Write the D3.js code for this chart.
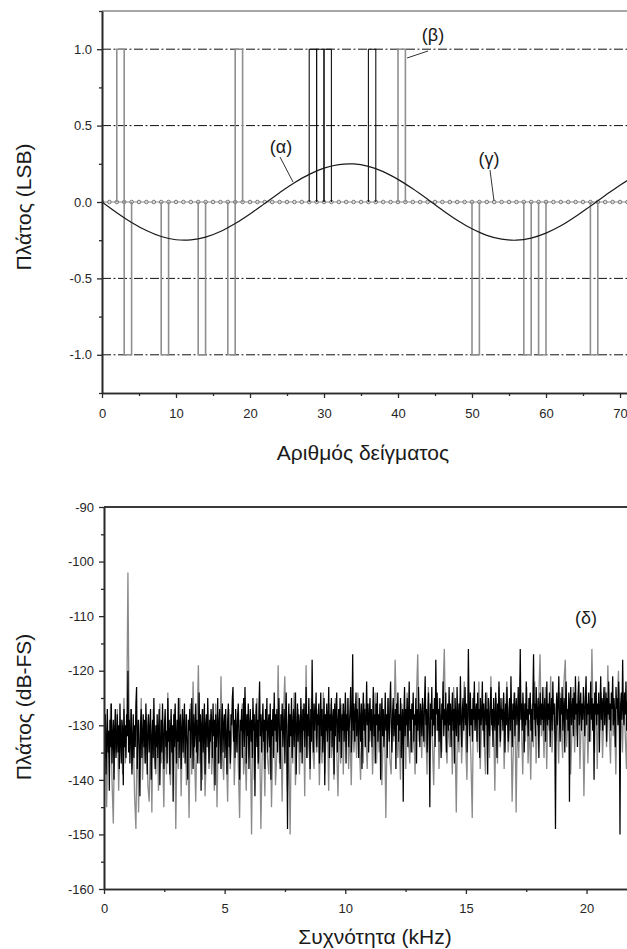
<!DOCTYPE html>
<html>
<head>
<meta charset="utf-8">
<script src="https://cdn.jsdelivr.net/npm/d3@7"></script>
<style>
  body { margin: 0; background: #fff; }
  svg { display: block; font-family: "Liberation Sans", Arial, sans-serif; }
</style>
</head>
<body>
<svg id="fig" width="627" height="949"></svg>
<script>
// ---------- Upper plot: amplitude in LSB vs sample number ----------

// (α) input sinusoid, one value every alphaStep samples, starting at sample 0
const alphaStep = 2;
const alphaValues = [
  0.000, -0.070, -0.134, -0.187, -0.226, -0.247, -0.248, -0.230, -0.193, -0.141,
  -0.078, -0.009, 0.061, 0.126, 0.181, 0.222, 0.245, 0.249, 0.233, 0.199,
  0.148, 0.086, 0.018, -0.053, -0.119, -0.175, -0.218, -0.243, -0.250, -0.236,
  -0.204, -0.156, -0.095, -0.027, 0.043, 0.110, 0.168, 0.212, 0.241
];

// (β) dithered quantizer output: non-zero samples (all other samples are 0)
const betaGraySamples = [2, 3, 8, 13, 17, 18, 40, 50, 57, 59, 66];
const betaGrayValues  = [1, -1, -1, -1, -1, 1, 1, -1, -1, -1, -1];
const betaBlackSamples = [28, 29, 30, 36];
const betaBlackValues  = [1, 1, 1, 1];

// (γ) undithered quantizer output, samples 0..75
const gammaValues = [
  0,0,0,0,0,0,0,0,0,0, 0,0,0,0,0,0,0,0,0,0,
  0,0,0,0,0,0,0,0,0,0, 0,0,0,0,0,0,0,0,0,0,
  0,0,0,0,0,0,0,0,0,0, 0,0,0,0,0,0,0,0,0,0,
  0,0,0,0,0,0,0,0,0,0, 0,0,0,0,0,0
];

const topYTicks = [-1.0, -0.5, 0.0, 0.5, 1.0];
const topYMinor = [-1.25, -0.75, -0.25, 0.25, 0.75, 1.25];
const topGridLevels = [-1.0, -0.5, 0.5, 1.0];
const topXTicks = [0, 10, 20, 30, 40, 50, 60, 70];
const topXMinor = [5, 15, 25, 35, 45, 55, 65, 75];

// ---------- Lower plot: spectrum in dB-FS vs frequency ----------
// black trace: fine frequency grid
const blackBinKHz = 0.02756;
const spectrumBlack = [
  -130,-136,-128,-139,-133,-127,-135,-131,-142,-129,-134,-126,-137,-132,-129,-140,-131,-127,-136,-133,
  -128,-135,-130,-138,-126,-133,-137,-129,-131,-141,-127,-134,-130,-136,-128,-132,-120,-135,-129,-137,
  -131,-127,-139,-133,-128,-136,-130,-134,-126,-123,-138,-131,-129,-135,-143,-130,-127,-136,-132,-128,
  -134,-129,-137,-126,-132,-139,-130,-128,-135,-131,-127,-140,-133,-129,-136,-125,-132,-138,-130,-134,
  -128,-136,-131,-127,-141,-133,-129,-135,-126,-132,-138,-130,-127,-134,-131,-137,-125,-133,-129,-139,
  -131,-127,-135,-130,-144,-128,-134,-126,-132,-137,-129,-133,-125,-136,-130,-128,-138,-131,-127,-135,
  -130,-126,-137,-132,-128,-134,-140,-129,-131,-127,-136,-133,-125,-130,-138,-128,-134,-131,-126,-135,
  -129,-137,-131,-124,-133,-128,-142,-130,-127,-135,-132,-126,-139,-130,-128,-134,-125,-131,-137,-129,
  -133,-127,-130,-136,-126,-132,-129,-141,-128,-134,-131,-125,-137,-130,-127,-133,-138,-129,-126,-135,
  -130,-128,-136,-127,-132,-139,-129,-126,-134,-131,-137,-128,-130,-125,-123,-133,-129,-136,-127,-131,
  -135,-128,-126,-133,-140,-129,-131,-127,-136,-130,-125,-134,-123,-129,-137,-128,-132,-126,-138,-130,
  -127,-133,-129,-136,-125,-131,-128,-143,-130,-126,-134,-129,-137,-127,-122,-132,-128,-135,-130,-126,
  -133,-129,-138,-127,-131,-125,-135,-130,-128,-134,-126,-140,-129,-132,-127,-136,-124,-131,-128,-133,
  -127,-135,-129,-125,-132,-138,-128,-131,-126,-134,-130,-127,-137,-129,-124,-133,-149,-130,-126,-134,
  -128,-132,-125,-136,-130,-127,-134,-129,-124,-139,-131,-126,-133,-128,-130,-135,-125,-129,-137,-127,
  -131,-126,-134,-129,-123,-136,-128,-132,-125,-130,-138,-127,-133,-118,-129,-135,-126,-131,-128,-124,
  -134,-128,-130,-126,-137,-129,-124,-132,-127,-135,-130,-125,-141,-128,-131,-126,-133,-129,-123,-136,
  -128,-131,-125,-134,-129,-127,-139,-126,-132,-128,-124,-135,-130,-127,-133,-125,-129,-136,-128,-131,
  -126,-133,-129,-124,-137,-128,-131,-125,-134,-130,-127,-123,-135,-129,-117,-131,-126,-133,-128,-124,
  -132,-127,-130,-136,-125,-129,-133,-126,-138,-128,-124,-131,-127,-134,-129,-122,-130,-126,-135,-128,
  -125,-131,-127,-134,-129,-123,-132,-128,-137,-126,-130,-124,-133,-128,-131,-126,-140,-129,-125,-132,
  -127,-134,-130,-124,-131,-128,-136,-125,-129,-133,-126,-122,-130,-135,-128,-125,-132,-129,-127,-138,
  -126,-130,-124,-133,-128,-131,-125,-136,-129,-127,-144,-128,-123,-132,-127,-130,-125,-134,-128,-122,
  -131,-127,-135,-126,-129,-124,-133,-128,-130,-125,-137,-127,-131,-123,-129,-134,-126,-128,-132,-125,
  -129,-133,-126,-121,-130,-127,-135,-128,-124,-131,-145,-126,-129,-123,-132,-127,-130,-125,-134,-118,
  -128,-124,-131,-127,-133,-125,-130,-136,-126,-129,-122,-132,-127,-130,-124,-135,-128,-126,-131,-123,
  -130,-126,-134,-128,-124,-131,-127,-137,-125,-129,-132,-123,-128,-133,-126,-130,-121,-129,-134,-127,
  -125,-131,-128,-123,-130,-126,-135,-129,-116,-127,-132,-124,-130,-127,-133,-125,-129,-122,-131,-128,
  -126,-133,-124,-129,-127,-136,-125,-130,-128,-122,-131,-126,-134,-128,-124,-130,-127,-139,-125,-129,
  -132,-126,-123,-130,-127,-134,-125,-129,-131,-124,-128,-136,-126,-130,-122,-128,-133,-125,-129,-127,
  -131,-124,-128,-135,-126,-130,-123,-129,-133,-127,-125,-131,-121,-128,-134,-126,-129,-124,-132,-127,
  -125,-130,-128,-123,-133,-127,-116,-129,-126,-131,-124,-128,-135,-126,-130,-122,-129,-127,-132,-125,
  -128,-124,-131,-127,-133,-125,-117,-129,-126,-132,-123,-128,-130,-125,-136,-127,-124,-130,-126,-129,
  -123,-131,-127,-125,-133,-128,-122,-130,-126,-129,-124,-134,-127,-125,-131,-122,-128,-126,-132,-149,
  -127,-124,-130,-126,-121,-129,-133,-125,-128,-123,-131,-127,-125,-135,-126,-122,-129,-127,-131,-124,
  -144,-126,-123,-130,-127,-125,-132,-124,-129,-121,-128,-126,-134,-125,-122,-130,-127,-124,-131,-126,
  -129,-123,-127,-132,-125,-121,-130,-126,-128,-124,-133,-127,-122,-129,-125,-131,-126,-140,-124,-128,
  -122,-130,-126,-128,-124,-135,-127,-121,-129,-125,-131,-126,-123,-130,-127,-124,-133,-125,-128,-122,
  -129,-126,-131,-124,-127,-121,-130,-125,-128,-134,-123,-127,-125,-130,-122,-128,-150,-126,-124,-129,
  -118,-127,-130,-124,-128,-122,-131,-126,-125,-129,-123,-132,-127,-124,-130,-126,-122,-128,-125,-131
];

// gray trace: coarser frequency grid
const grayBinKHz = 0.0551;
const spectrumGray = [
  -138,-128,-145,-131,-136,-126,-140,-148,-130,-135,-127,-142,-133,-129,-139,-125,-137,-131,-102,-134,
  -127,-138,-131,-143,-149,-129,-146,-134,-125,-140,-132,-137,-128,-141,-144,-130,-146,-127,-135,-139,
  -131,-142,-126,-137,-133,-145,-129,-139,-124,-136,-141,-130,-134,-127,-149,-132,-138,-125,-143,-131,
  -136,-128,-141,-133,-147,-126,-139,-122,-134,-144,-130,-119,-137,-132,-140,-127,-143,-135,-129,-138,
  -128,-139,-133,-142,-126,-145,-131,-137,-121,-135,-140,-129,-134,-144,-127,-138,-132,-125,-141,-133,
  -129,-137,-147,-131,-126,-139,-134,-142,-128,-136,-131,-150,-127,-140,-133,-125,-138,-130,-149,-135,
  -131,-143,-127,-136,-139,-129,-145,-133,-126,-141,-135,-119,-137,-130,-144,-128,-121,-134,-142,-132,
  -150,-129,-137,-124,-141,-133,-127,-139,-131,-135,-126,-143,-119,-136,-130,-140,-125,-134,-138,-128,
  -135,-127,-141,-130,-137,-124,-139,-132,-128,-142,-126,-136,-131,-140,-125,-134,-143,-129,-137,-126,
  -139,-128,-134,-125,-138,-131,-141,-127,-135,-130,-136,-124,-133,-140,-129,-137,-126,-132,-138,-128,
  -133,-127,-139,-131,-124,-137,-129,-135,-126,-141,-132,-128,-147,-130,-125,-136,-139,-127,-133,-118,
  -129,-136,-131,-140,-126,-134,-128,-138,-124,-132,-137,-127,-135,-130,-139,-125,-117,-133,-128,-136,
  -126,-134,-130,-139,-123,-136,-129,-133,-141,-127,-131,-125,-138,-128,-135,-124,-116,-132,-137,-129,
  -134,-127,-139,-123,-131,-146,-128,-135,-125,-137,-130,-122,-133,-140,-126,-129,-136,-147,-124,-131,
  -127,-135,-122,-138,-130,-126,-133,-139,-124,-129,-136,-121,-131,-128,-142,-125,-137,-123,-134,-130,
  -125,-138,-129,-122,-135,-131,-127,-144,-133,-124,-146,-128,-136,-121,-130,-139,-126,-133,-123,-137,
  -129,-140,-126,-134,-122,-137,-130,-125,-117,-132,-128,-136,-123,-138,-127,-131,-121,-135,-129,-126,
  -133,-127,-137,-124,-130,-136,-122,-118,-134,-128,-125,-139,-131,-123,-135,-127,-132,-121,-138,-129,
  -126,-143,-130,-124,-137,-128,-133,-116,-129,-135,-122,-138,-127,-131,-124,-136,-128,-123,-134,-119,
  -130,-137,-125,-132,-128,-139,-126,-120,-133,-127,-135,-124,-131,-138,-122,-129,-134,-126,-132,-128
];

const botYTicks = [-160, -150, -140, -130, -120, -110, -100, -90];
const botYMinor = [-155, -145, -135, -125, -115, -105, -95];
const botXTicks = [0, 5, 10, 15, 20];
const botXMinor = [2.5, 7.5, 12.5, 17.5];

// ---------- drawing ----------
const W = 627, H = 949;
const svg = d3.select("#fig");
svg.append("rect").attr("width", W).attr("height", H).attr("fill", "#fff");

const axisColor = "#2a2a2a";
const labelColor = "#262626";
const tickFont = 13;
const titleFont = 21;

function styleAxis(g) {
  g.select(".domain").attr("stroke", axisColor).attr("stroke-width", 1.6);
  g.selectAll(".tick line").attr("stroke", axisColor).attr("stroke-width", 1.3);
  g.selectAll(".tick text").attr("fill", labelColor)
    .style("font-size", tickFont + "px")
    .style("font-family", '"Liberation Sans", Arial, sans-serif');
}

/* ===== Upper plot ===== */
const xTop = d3.scaleLinear().domain([0, 75]).range([102, 657]);
const yTop = d3.scaleLinear().domain([-1.25, 1.25]).range([393, 11]);

svg.append("clipPath").attr("id", "clipTop").append("rect")
  .attr("x", xTop(0)).attr("y", yTop(1.25) - 1)
  .attr("width", xTop(75) - xTop(0)).attr("height", yTop(-1.25) - yTop(1.25) + 2);

const upperG = svg.append("g").attr("clip-path", "url(#clipTop)");

// dash-dot reference levels
upperG.selectAll("line.grid").data(topGridLevels).join("line")
  .attr("class", "grid")
  .attr("x1", xTop(0)).attr("x2", xTop(75))
  .attr("y1", d => yTop(d)).attr("y2", d => yTop(d))
  .attr("stroke", "#111").attr("stroke-width", 1)
  .attr("stroke-dasharray", "9,2.5,2,2.5");

// (γ) zero output with sample markers
const gammaLine = d3.line().x((d, i) => xTop(i)).y(d => yTop(d));
upperG.append("path").datum(gammaValues)
  .attr("d", gammaLine).attr("fill", "none")
  .attr("stroke", "#8c8c8c").attr("stroke-width", 1.2);
upperG.selectAll("circle.gm").data(gammaValues).join("circle")
  .attr("class", "gm")
  .attr("cx", (d, i) => xTop(i)).attr("cy", d => yTop(d))
  .attr("r", 1.8).attr("fill", "#ddd")
  .attr("stroke", "#7a7a7a").attr("stroke-width", 1);

// (β) dithered output, each non-zero sample held for one sample period
function barPath(n, v) {
  return `M${xTop(n)},${yTop(0)}V${yTop(v)}H${xTop(n + 1)}V${yTop(0)}`;
}
const betaGray = betaGraySamples.map((n, i) => ({ n, v: betaGrayValues[i] }));
const betaBlack = betaBlackSamples.map((n, i) => ({ n, v: betaBlackValues[i] }));

upperG.selectAll("path.bg").data(betaGray).join("path")
  .attr("class", "bg")
  .attr("d", d => barPath(d.n, d.v))
  .attr("fill", "none").attr("stroke", "#8f8f8f").attr("stroke-width", 1.6);
upperG.selectAll("path.bb").data(betaBlack).join("path")
  .attr("class", "bb")
  .attr("d", d => barPath(d.n, d.v))
  .attr("fill", "none").attr("stroke", "#111").attr("stroke-width", 1.1);

// (α) input sinusoid
const alphaLine = d3.line()
  .x((d, i) => xTop(i * alphaStep)).y(d => yTop(d))
  .curve(d3.curveCatmullRom);
upperG.append("path").datum(alphaValues)
  .attr("d", alphaLine).attr("fill", "none")
  .attr("stroke", "#1a1a1a").attr("stroke-width", 1.2);

// frame top edge
svg.append("line")
  .attr("x1", xTop(0)).attr("x2", xTop(75))
  .attr("y1", yTop(1.25)).attr("y2", yTop(1.25))
  .attr("stroke", "#8a8a8a").attr("stroke-width", 1.6);

// axes
svg.append("g").attr("transform", `translate(${xTop(0)},0)`)
  .call(d3.axisLeft(yTop).tickValues(topYMinor).tickSize(3).tickSizeOuter(0).tickFormat(""))
  .call(styleAxis);
svg.append("g").attr("transform", `translate(${xTop(0)},0)`)
  .call(d3.axisLeft(yTop).tickValues(topYTicks).tickSize(5).tickSizeOuter(0)
    .tickPadding(5).tickFormat(d => d.toFixed(1)))
  .call(styleAxis);
svg.append("g").attr("transform", `translate(0,${yTop(-1.25)})`)
  .call(d3.axisBottom(xTop).tickValues(topXMinor).tickSize(3).tickSizeOuter(0).tickFormat(""))
  .call(styleAxis);
svg.append("g").attr("transform", `translate(0,${yTop(-1.25)})`)
  .call(d3.axisBottom(xTop).tickValues(topXTicks).tickSize(5).tickSizeOuter(0)
    .tickPadding(11).tickFormat(d3.format("d")))
  .call(styleAxis);

// axis titles
svg.append("text").attr("x", 363).attr("y", 460)
  .attr("text-anchor", "middle").attr("fill", "#1a1a1a")
  .style("font-size", titleFont + "px").text("Αριθμός δείγματος");
svg.append("text").attr("transform", "translate(31,207) rotate(-90)")
  .attr("text-anchor", "middle").attr("fill", "#1a1a1a")
  .style("font-size", titleFont + "px").text("Πλάτος (LSB)");

// curve labels with leaders
const curveLabels = [
  { t: "(α)", x: 281, y: 153, lx1: 280, ly1: 157, lx2: 293, ly2: 182 },
  { t: "(β)", x: 433, y: 41,  lx1: 428, ly1: 51,  lx2: 407, ly2: 58 },
  { t: "(γ)", x: 489, y: 165, lx1: 490, ly1: 170, lx2: 494, ly2: 201 }
];
curveLabels.forEach(d => {
  svg.append("text").attr("x", d.x).attr("y", d.y)
    .attr("text-anchor", "middle").attr("fill", "#1a1a1a")
    .style("font-size", "18px").text(d.t);
  svg.append("line").attr("x1", d.lx1).attr("y1", d.ly1)
    .attr("x2", d.lx2).attr("y2", d.ly2)
    .attr("stroke", "#333").attr("stroke-width", 1);
});

/* ===== Lower plot ===== */
const xBot = d3.scaleLinear().domain([0, 22.05]).range([104, 636]);
const yBot = d3.scaleLinear().domain([-160, -90]).range([889, 507]);

svg.append("clipPath").attr("id", "clipBot").append("rect")
  .attr("x", xBot(0)).attr("y", yBot(-90))
  .attr("width", xBot(22.05) - xBot(0)).attr("height", yBot(-160) - yBot(-90));

const lowerG = svg.append("g").attr("clip-path", "url(#clipBot)");
const grayLine = d3.line()
  .x((d, i) => xBot(i * grayBinKHz)).y(d => yBot(d));
const blackLine = d3.line()
  .x((d, i) => xBot(i * blackBinKHz)).y(d => yBot(d));

lowerG.append("path").datum(spectrumGray)
  .attr("d", grayLine).attr("fill", "none")
  .attr("stroke", "#8a8a8a").attr("stroke-width", 1.3)
  .attr("stroke-linejoin", "miter").attr("stroke-miterlimit", 2);
lowerG.append("path").datum(spectrumBlack)
  .attr("d", blackLine).attr("fill", "none")
  .attr("stroke", "#000").attr("stroke-width", 1.25)
  .attr("stroke-linejoin", "miter").attr("stroke-miterlimit", 2);

// frame top edge
svg.append("line")
  .attr("x1", xBot(0)).attr("x2", xBot(22.05))
  .attr("y1", yBot(-90)).attr("y2", yBot(-90))
  .attr("stroke", "#3a3a3a").attr("stroke-width", 1.8);

svg.append("g").attr("transform", `translate(${xBot(0)},0)`)
  .call(d3.axisLeft(yBot).tickValues(botYMinor).tickSize(3).tickSizeOuter(0).tickFormat(""))
  .call(styleAxis);
svg.append("g").attr("transform", `translate(${xBot(0)},0)`)
  .call(d3.axisLeft(yBot).tickValues(botYTicks).tickSize(5).tickSizeOuter(0)
    .tickPadding(5).tickFormat(d => String(d)))
  .call(styleAxis);
svg.append("g").attr("transform", `translate(0,${yBot(-160)})`)
  .call(d3.axisBottom(xBot).tickValues(botXMinor).tickSize(3).tickSizeOuter(0).tickFormat(""))
  .call(styleAxis);
svg.append("g").attr("transform", `translate(0,${yBot(-160)})`)
  .call(d3.axisBottom(xBot).tickValues(botXTicks).tickSize(5).tickSizeOuter(0)
    .tickPadding(10).tickFormat(d3.format("d")))
  .call(styleAxis);

svg.append("text").attr("x", 375).attr("y", 944)
  .attr("text-anchor", "middle").attr("fill", "#1a1a1a")
  .style("font-size", titleFont + "px").text("Συχνότητα (kHz)");
svg.append("text").attr("transform", "translate(31,707) rotate(-90)")
  .attr("text-anchor", "middle").attr("fill", "#1a1a1a")
  .style("font-size", titleFont + "px").text("Πλάτος (dB-FS)");

svg.append("text").attr("x", 586).attr("y", 624)
  .attr("text-anchor", "middle").attr("fill", "#1a1a1a")
  .style("font-size", "18px").text("(δ)");
</script>
</body>
</html>
